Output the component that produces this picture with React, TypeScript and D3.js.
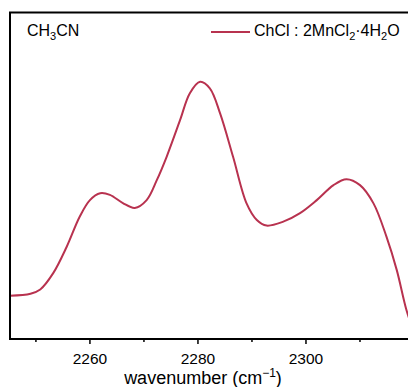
import React from "react";
import { scaleLinear, line, curveCatmullRom } from "d3";

// wavenumber (cm-1) and intensity (a.u.)
const wavenumbers = [
  2245.2, 2249.0, 2250.8, 2253.2, 2255.7, 2258.1, 2260.0, 2261.9, 2263.7,
  2266.1, 2268.3, 2270.5, 2272.4, 2274.2, 2276.7, 2278.5, 2280.4, 2282.2,
  2284.1, 2286.5, 2289.0, 2290.9, 2292.7, 2295.8, 2298.9, 2302.0, 2305.1,
  2307.5, 2310.0, 2312.5, 2314.9, 2316.8, 2318.6, 2320.0,
];
const intensity = [
  13.3, 13.9, 15.2, 20.2, 28.3, 37.5, 42.6, 44.7, 44.2, 41.7, 40.2, 42.6,
  48.8, 55.9, 67.2, 75.4, 78.9, 76.9, 69.2, 55.9, 41.6, 36.5, 34.8, 36.0,
  38.6, 42.6, 47.2, 49.0, 47.2, 41.6, 31.4, 21.2, 8.9, 2.0,
];
const majorTicks = [2260, 2280, 2300];
const minorTicks = [2250, 2270, 2290, 2310];

const W = 408;
const H = 387;
const left = 10;
const top = 12.5;
const bottom = 339;
const right = 414;

export default function App() {
  const x = scaleLinear().domain([2245.2, 2320]).range([left, right]);
  const y = scaleLinear().domain([0, 100]).range([bottom, bottom - 326]);

  const pts = wavenumbers.map((w, i) => [w, intensity[i]] as [number, number]);
  const path = line<[number, number]>()
    .x((d) => x(d[0]))
    .y((d) => y(d[1]))
    .curve(curveCatmullRom.alpha(0.5))(pts);

  const color = "#b8324f";
  const font = "'Liberation Sans', Arial, sans-serif";

  return (
    <svg
      width={W}
      height={H}
      style={{ position: "absolute", left: 0, top: 0, background: "#fff" }}
      fontFamily={font}
    >
      <defs>
        <clipPath id="plot">
          <rect x={left} y={top} width={right - left} height={bottom - top} />
        </clipPath>
      </defs>
      <path
        d={path || ""}
        fill="none"
        stroke={color}
        strokeWidth={2}
        clipPath="url(#plot)"
      />
      {/* frame */}
      <path
        d={`M${right + 5},${top} H${left} V${bottom} H${right + 5}`}
        fill="none"
        stroke="#000"
        strokeWidth={2}
      />
      {majorTicks.map((t) => (
        <g key={t}>
          <line x1={x(t)} x2={x(t)} y1={bottom} y2={bottom + 5} stroke="#000" strokeWidth={1.5} />
          <text x={x(t)} y={364} textAnchor="middle" fontSize={15.5}>
            {t}
          </text>
        </g>
      ))}
      {minorTicks.map((t) => (
        <line key={t} x1={x(t)} x2={x(t)} y1={bottom} y2={bottom + 3} stroke="#000" strokeWidth={1.5} />
      ))}
      <text x={203} y={384} textAnchor="middle" fontSize={18}>
        wavenumber (cm
        <tspan dy={-7} fontSize={12}>−1</tspan>
        <tspan dy={7}>)</tspan>
      </text>
      <text x={27} y={36} fontSize={16}>
        CH<tspan dy={4} fontSize={11}>3</tspan>
        <tspan dy={-4}>CN</tspan>
      </text>
      <line x1={211} x2={250} y1={32} y2={32} stroke={color} strokeWidth={2} />
      <text x={254} y={36} fontSize={16}>
        ChCl : 2MnCl<tspan dy={4} fontSize={11}>2</tspan>
        <tspan dy={-4}>·4H</tspan>
        <tspan dy={4} fontSize={11}>2</tspan>
        <tspan dy={-4}>O</tspan>
      </text>
    </svg>
  );
}
